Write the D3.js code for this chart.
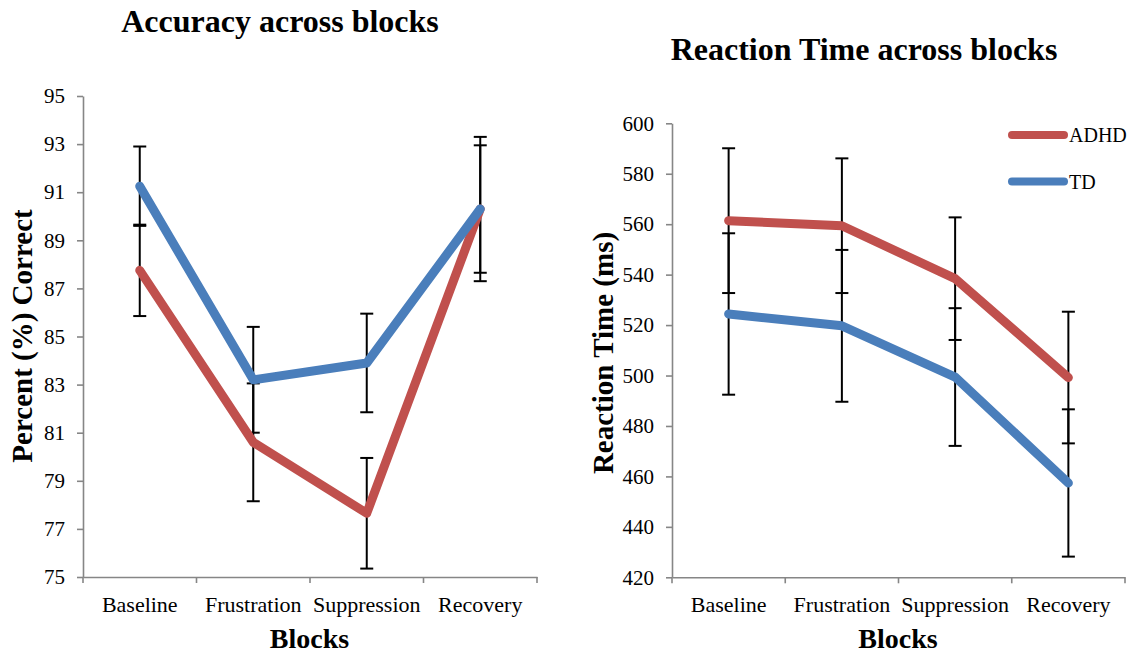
<!DOCTYPE html>
<html>
<head>
<meta charset="utf-8">
<script src="https://cdn.jsdelivr.net/npm/d3@7"></script>
<style>
  html, body { margin: 0; padding: 0; background: #fff; }
  svg { display: block; }
  text { font-family: "Liberation Serif", "Times New Roman", serif; }
</style>
</head>
<body>
<svg id="chart" width="1136" height="659"></svg>
<script>
// Block labels shared by both panels
const categories = ["Baseline", "Frustration", "Suppression", "Recovery"];
const seriesNames = ["ADHD", "TD"];

// Accuracy (% correct) with error bar half-widths
const accADHD = [87.75, 80.6, 77.65, 90.3];
const accADHDErr = [1.9, 2.45, 2.3, 3.0];
const accTD = [91.25, 83.2, 83.9, 90.3];
const accTDErr = [1.65, 2.2, 2.05, 2.65];
const accTicks = [75, 77, 79, 81, 83, 85, 87, 89, 91, 93, 95];

// Reaction time (ms) with error bar half-widths
const rtADHD = [561.4, 559.4, 538.4, 499.2];
const rtADHDErr = [28.7, 26.7, 24.3, 26.1];
const rtTD = [524.4, 519.7, 499.4, 457.4];
const rtTDErr = [32.0, 30.1, 27.3, 29.2];
const rtTicks = [420, 440, 460, 480, 500, 520, 540, 560, 580, 600];

const colors = { ADHD: "#C0504D", TD: "#4A7EBB" };
const axisColor = "#868686";
const font = "Liberation Serif, Times New Roman, serif";

const svg = d3.select("#chart");

function panel(opts) {
  const g = svg.append("g");
  const x = d3.scaleBand().domain(categories).range([opts.left, opts.right]);
  const y = d3.scaleLinear().domain(opts.domain).range([opts.bottom, opts.top]);

  // y axis
  const yAxis = d3.axisLeft(y).tickValues(opts.ticks).tickSize(6).tickSizeOuter(0).tickPadding(12)
    .tickFormat(d3.format("d"));
  const yg = g.append("g").attr("transform", `translate(${opts.left},0)`).call(yAxis)
    .attr("font-family", font).attr("font-size", 21);
  yg.select(".domain").attr("stroke", axisColor).attr("stroke-width", 1.6);
  yg.selectAll(".tick line").attr("stroke", axisColor).attr("stroke-width", 1.6);
  yg.selectAll(".tick text").attr("fill", "#000").attr("font-family", font).attr("font-size", 21);

  // x axis: labels at band centres, tick marks on band boundaries
  const xAxis = d3.axisBottom(x).tickSize(0).tickPadding(19).tickSizeOuter(0);
  const xg = g.append("g").attr("transform", `translate(0,${opts.bottom})`).call(xAxis)
    .attr("font-family", font).attr("font-size", 22);
  xg.select(".domain").attr("stroke", axisColor).attr("stroke-width", 1.6);
  xg.selectAll(".tick text").attr("fill", "#000").attr("font-family", font).attr("font-size", 22);
  const bounds = categories.map(c => x(c)).concat([x.range()[1]]);
  xg.selectAll("line.bound").data(bounds).join("line")
    .attr("class", "bound")
    .attr("x1", d => d).attr("x2", d => d)
    .attr("y1", 0).attr("y2", 6)
    .attr("stroke", axisColor).attr("stroke-width", 1.6);

  const cx = c => x(c) + x.bandwidth() / 2;

  // error bars
  opts.series.forEach(s => {
    const eg = g.append("g");
    const d = categories.map((c, i) => ({ c, v: s.values[i], e: s.err[i] }));
    eg.selectAll("line.bar").data(d).join("line")
      .attr("x1", p => cx(p.c)).attr("x2", p => cx(p.c))
      .attr("y1", p => y(p.v - p.e)).attr("y2", p => y(p.v + p.e))
      .attr("stroke", "#000").attr("stroke-width", 2);
    [-1, 1].forEach(sign => {
      eg.selectAll("line.cap" + (sign > 0 ? "u" : "d")).data(d).join("line")
        .attr("x1", p => cx(p.c) - 6.5).attr("x2", p => cx(p.c) + 6.5)
        .attr("y1", p => y(p.v + sign * p.e)).attr("y2", p => y(p.v + sign * p.e))
        .attr("stroke", "#000").attr("stroke-width", 2);
    });
  });

  // series lines
  const line = d3.line().x(p => cx(p.c)).y(p => y(p.v));
  opts.series.forEach(s => {
    g.append("path")
      .datum(categories.map((c, i) => ({ c, v: s.values[i] })))
      .attr("d", line)
      .attr("fill", "none")
      .attr("stroke", colors[s.name])
      .attr("stroke-width", 9)
      .attr("stroke-linecap", "round")
      .attr("stroke-linejoin", "round");
  });

  // titles
  g.append("text").attr("x", opts.titleX).attr("y", opts.titleY)
    .attr("text-anchor", "middle").attr("font-family", font)
    .attr("font-weight", "bold").attr("font-size", 32).text(opts.title);
  g.append("text").attr("x", (opts.left + opts.right) / 2 - 0.5).attr("y", 648)
    .attr("text-anchor", "middle").attr("font-family", font)
    .attr("font-weight", "bold").attr("font-size", 28).text("Blocks");
  g.append("text")
    .attr("transform", `translate(${opts.yTitleX},${opts.yTitleY}) rotate(-90)`)
    .attr("text-anchor", "middle").attr("font-family", font)
    .attr("font-weight", "bold").attr("font-size", 29).text(opts.yTitle);

  return { x, y };
}

panel({
  left: 83, right: 537, top: 96, bottom: 577,
  domain: [75, 95], ticks: accTicks,
  series: [
    { name: "ADHD", values: accADHD, err: accADHDErr },
    { name: "TD", values: accTD, err: accTDErr }
  ],
  title: "Accuracy across blocks", titleX: 280, titleY: 32,
  yTitle: "Percent (%) Correct", yTitleX: 32, yTitleY: 336
});

panel({
  left: 672, right: 1125, top: 123.3, bottom: 577.3,
  domain: [420, 600], ticks: rtTicks,
  series: [
    { name: "ADHD", values: rtADHD, err: rtADHDErr },
    { name: "TD", values: rtTD, err: rtTDErr }
  ],
  title: "Reaction Time across blocks", titleX: 864, titleY: 60,
  yTitle: "Reaction Time (ms)", yTitleX: 613, yTitleY: 353
});

// legend for the reaction time panel
const legend = svg.append("g").attr("transform", "translate(1010,135)");
seriesNames.forEach((name, i) => {
  const row = legend.append("g").attr("transform", `translate(0,${i * 46.5})`);
  row.append("line").attr("x1", 2).attr("x2", 54).attr("y1", 0).attr("y2", 0)
    .attr("stroke", colors[name]).attr("stroke-width", 8).attr("stroke-linecap", "round");
  row.append("text").attr("x", 59).attr("y", 7).attr("font-family", font)
    .attr("font-size", 20).text(name);
});
</script>
</body>
</html>
